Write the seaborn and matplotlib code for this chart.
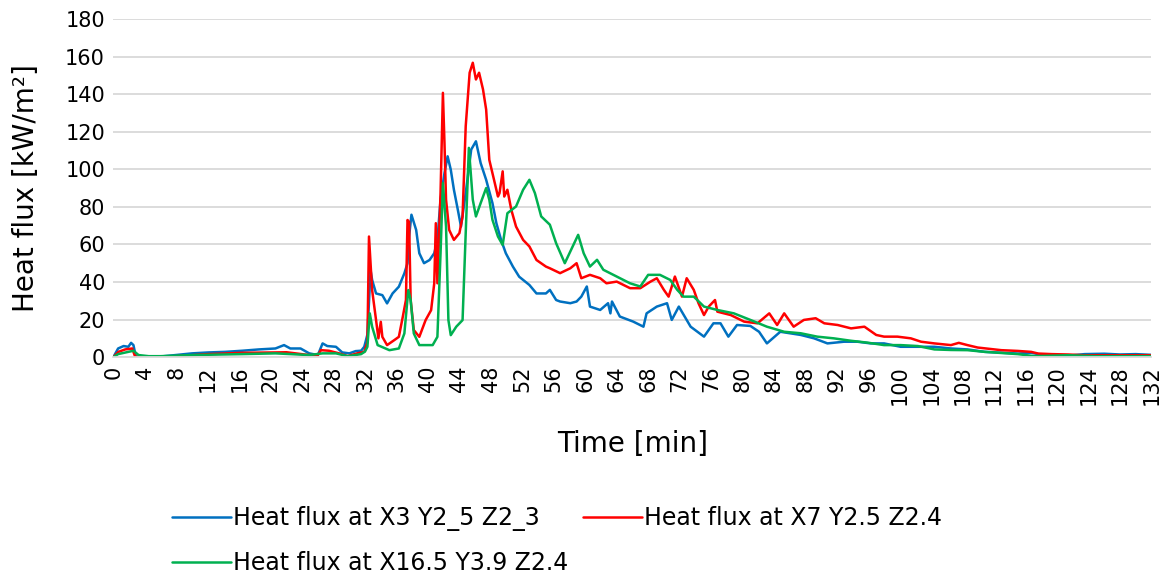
import pandas as pd
import seaborn as sns
import matplotlib.pyplot as plt

# values (time in min, heat flux in kW/m2)
t_blue = [0, 0.6, 1.3, 1.9, 2.25, 2.55, 2.85, 3.6, 5.7, 7.9, 10, 12.1, 14.2, 16.4, 18.5, 20.6, 21.7, 22.5,
          23.8, 24.9, 26, 26.6, 27.2, 28.3, 29.1, 30, 30.8, 31.5, 31.9, 32.3, 32.7, 32.9, 33.4, 34.2, 34.8,
          35.5, 36.3, 37.0, 37.4, 37.6, 37.9, 38.5, 38.9, 39.5, 40.2, 40.8, 41.2, 41.6, 42.1, 42.5, 42.9,
          43.3, 43.8, 44.2, 44.8, 45.5, 46.1, 46.7, 47.4, 48.2, 48.7, 49.3, 49.9, 50.8, 51.6, 52.9, 53.8,
          55.0, 55.5, 56.3, 56.8, 58.1, 58.9, 59.5, 60.2, 60.6, 61.9, 62.9, 63.2, 63.4, 64.4, 66.1, 67.4,
          67.8, 69.1, 70.4, 71.0, 71.9, 73.4, 75.1, 76.3, 77.2, 78.2, 79.3, 81.0, 82.1, 83.1, 84.8, 87.4,
          89.1, 90.8, 92.9, 94.6, 96.3, 98.0, 100.1, 102.3, 104.4, 106.5, 108.6, 110.8, 115, 116.7, 119.3,
          121.5, 123.5, 126, 128, 130, 132]
q_blue = [0, 4.6, 5.9, 5.5, 7.6, 6.4, 0.3, 0, 0.2, 1.1, 2, 2.5, 2.8, 3.4, 4.1, 4.6, 6.4, 4.6,
          4.6, 2, 1.1, 7.3, 5.9, 5.5, 2.5, 2, 3.2, 3.4, 5.5, 12, 46.4, 41.1, 33.9, 33, 28.6,
          33.9, 37.5, 44.6, 50, 64.2, 75.8, 67.7, 55.3, 50, 51.7, 55.3, 62.4, 83.8, 98, 106.9, 99.8,
          89.1, 78.4, 69.5, 87.3, 110.5, 114.9, 103.3, 94.4, 82, 71.3, 62.4, 55.3, 48.2, 42.8, 38.4, 33.9,
          33.9, 35.8, 30.4, 29.6, 28.7, 29.6, 32.2, 37.6, 26.9, 25.1, 28.7, 23.3, 29.6, 21.6, 18.9, 16.2,
          23.3, 26.9, 28.7, 19.8, 26.9, 16.2, 10.9, 18, 18, 10.9, 17.1, 16.6, 13.5, 7.3, 13.5, 11.8,
          10, 7.3, 8.2, 8.2, 7.3, 7.3, 5.5, 5.5, 5.5, 4.6, 4.1, 2.8, 1.9, 2.3, 0.3,
          0.8, 1.6, 1.8, 1.4, 1.6, 1.2]

t_red = [0, 0.64, 1.5, 2.4, 2.76, 3.6, 6, 8, 12.1, 16.4, 20.6, 22, 24.9, 26, 26.4, 27.4, 28.7, 29.8,
         31, 31.9, 32.3, 32.5, 32.9, 33.4, 33.7, 34.0, 34.2, 34.8, 35.7, 36.3, 36.8, 37.2, 37.4, 37.6,
         37.8, 38.2, 38.9, 39.7, 40.4, 40.8, 41.0, 41.2, 41.6, 41.9, 42.1, 42.3, 42.7, 43.3, 44.0, 44.4,
         44.8, 45.3, 45.7, 46.1, 46.5, 47.0, 47.4, 47.8, 48.4, 48.9, 49.1, 49.5, 49.7, 50.1, 50.6, 51.2,
         52.1, 52.9, 53.8, 55.0, 55.5, 56.8, 57.2, 58.1, 58.9, 59.5, 60.6, 61.9, 62.7, 64.0, 65.7, 67.0,
         68.3, 69.1, 70.0, 70.6, 71.4, 72.3, 72.9, 73.8, 74.4, 75.1, 75.7, 76.5, 76.8, 78.5, 80.2, 81.9,
         83.4, 84.4, 85.3, 86.5, 87.8, 89.3, 90.4, 92.1, 93.8, 95.5, 97.0, 98.0, 99.7, 101.4, 102.7,
         104.4, 106.5, 107.5, 108.6, 109.9, 112.9, 115, 116.7, 117.6, 119.3, 121.4, 123.5, 132]
q_red = [0, 2.8, 4.1, 4.6, 0.3, 0, 0.3, 0.5, 1.6, 2.3, 2.5, 2.6, 1.1, 1.1, 3.7, 3.4, 2, 0.5,
         2, 2.8, 8, 64.2, 35.7, 19.7, 10, 18.8, 10.8, 6.4, 9, 10.8, 21.5, 30.4, 73, 72,
         30.4, 14.4, 10.8, 19.7, 25, 39.3, 71.3, 39.3, 87.3, 140.7, 114, 83.8, 67.7, 62.4, 66, 74.9,
         122.9, 151.4, 156.7, 147.8, 151.4, 142.5, 131.8, 105, 94.4, 85.5, 87.3, 98.9, 85.5, 89.1, 78.4, 69.5,
         62.4, 58.9, 51.7, 48.2, 47.3, 44.7, 45.5, 47.3, 50, 42, 43.8, 42, 39.3, 40.2, 36.7, 36.7,
         40.2, 42, 35.8, 32.2, 42.9, 32.2, 42, 35.8, 28.7, 22.4, 26.9, 30.4, 24.2, 22.4, 18.9, 18,
         23.3, 17.1, 23.3, 16.2, 19.8, 20.7, 18, 17.1, 15.3, 16.2, 11.8, 10.9, 10.9, 10, 8.2,
         7.3, 6.4, 7.6, 6.4, 5.1, 3.7, 3.3, 2.8, 1.9, 1.6, 1.4, 1.0, 1.0]

t_green = [0, 0.6, 1.9, 2.55, 3.2, 4.5, 6, 10, 16.4, 20.6, 24.9, 26.6, 28.3, 29.8, 31.5, 32.0, 32.3,
           32.6, 32.9, 33.6, 35.1, 36.3, 37.0, 37.5, 37.8, 38.2, 38.9, 40.6, 41.2, 41.6, 41.9, 42.3, 42.6,
           42.9, 43.6, 44.4, 44.8, 45.2, 45.7, 46.1, 46.7, 47.4, 47.8, 48.2, 48.9, 49.5, 50.1, 51.2, 52.1,
           52.9, 53.6, 54.4, 55.5, 56.3, 57.4, 58.4, 59.1, 59.8, 60.6, 61.5, 62.3, 64.0, 65.7, 67.0, 68.0,
           69.5, 70.8, 71.7, 72.5, 73.8, 75.1, 76.8, 78.9, 81.0, 83.1, 85.3, 87.4, 89.5, 91.6, 93.8, 95.9,
           98.0, 100.1, 102.3, 104.4, 106.5, 108.6, 110.8, 115, 117.1, 121.4, 125, 132]
q_green = [0, 1.6, 2.8, 3.4, 1.1, 0.5, 0.5, 1.1, 1.6, 2, 1.1, 2, 2, 0.5, 1.6, 3, 5.5,
           23.3, 16.2, 6.4, 3.7, 4.6, 12.6, 35.7, 30.4, 12.6, 6.4, 6.4, 10.8, 55.3, 92.7, 69.5, 19.7,
           11.7, 16.2, 19.7, 66, 111.4, 83.8, 74.9, 82, 90, 83.8, 73.1, 64.2, 59.7, 76.6, 80.2, 89.1,
           94.4, 87.3, 74.9, 70.5, 60.6, 50, 58.9, 65.1, 55.3, 48.2, 51.8, 46.5, 42.9, 39.3, 37.6, 43.8,
           43.8, 41.1, 35.8, 32.2, 32.2, 26.9, 25.1, 23.3, 19.8, 16.2, 13.5, 12.7, 10.9, 10, 8.7, 7.7,
           6.4, 6.4, 5.9, 4.1, 3.8, 3.7, 2.8, 1.6, 0.5, 1.0, 0.5, 0.5]

labels = ["Heat flux at X3 Y2_5 Z2_3", "Heat flux at X7 Y2.5 Z2.4", "Heat flux at X16.5 Y3.9 Z2.4"]
colors = ["#0070C0", "#FF0000", "#00B050"]

df = pd.concat([
    pd.DataFrame({"Time": t_blue, "Flux": q_blue, "Sensor": labels[0]}),
    pd.DataFrame({"Time": t_red, "Flux": q_red, "Sensor": labels[1]}),
    pd.DataFrame({"Time": t_green, "Flux": q_green, "Sensor": labels[2]}),
])

sns.set_style("whitegrid")
plt.rcParams["font.family"] = ["DejaVu Sans"]
plt.rcParams["text.color"] = "black"
plt.rcParams["axes.labelcolor"] = "black"
plt.rcParams["xtick.color"] = "black"
plt.rcParams["ytick.color"] = "black"

fig = plt.figure(figsize=(11.69, 5.76), dpi=100)
ax = fig.add_axes([0.097, 0.38, 0.888, 0.587])

sns.lineplot(data=df, x="Time", y="Flux", hue="Sensor", hue_order=labels,
             palette=colors, linewidth=1.8, sort=False, estimator=None, ax=ax)

ax.set_xlim(0, 132)
ax.set_ylim(0, 180)
ax.set_xticks(range(0, 133, 4))
ax.set_yticks(range(0, 181, 20))
ax.tick_params(axis="x", labelrotation=90, labelsize=15, length=0, pad=6)
ax.tick_params(axis="y", labelsize=15, length=0, pad=6)
ax.grid(axis="x", visible=False)
ax.grid(axis="y", color="#D9D9D9", linewidth=1.3)
for s in ["left", "right", "top"]:
    ax.spines[s].set_visible(False)
ax.spines["bottom"].set_color("#D9D9D9")
ax.spines["bottom"].set_linewidth(1.3)

ax.set_xlabel("Time [min]", fontsize=20, labelpad=18)
ax.set_ylabel("Heat flux [kW/m²]", fontsize=20)
ax.yaxis.set_label_coords(-0.071, 0.5)

# legend below, row-major: blue, red / green
h, l = ax.get_legend_handles_labels()
order = [0, 2, 1]
ax.legend([h[i] for i in order], [l[i] for i in order], ncol=2, frameon=False,
          fontsize=17, loc="upper left", bbox_to_anchor=(0.129, 0.158),
          bbox_transform=fig.transFigure, handlelength=2.5, handletextpad=0.1,
          columnspacing=0.6, labelspacing=0.85)

fig.savefig("out.png", dpi=100)
